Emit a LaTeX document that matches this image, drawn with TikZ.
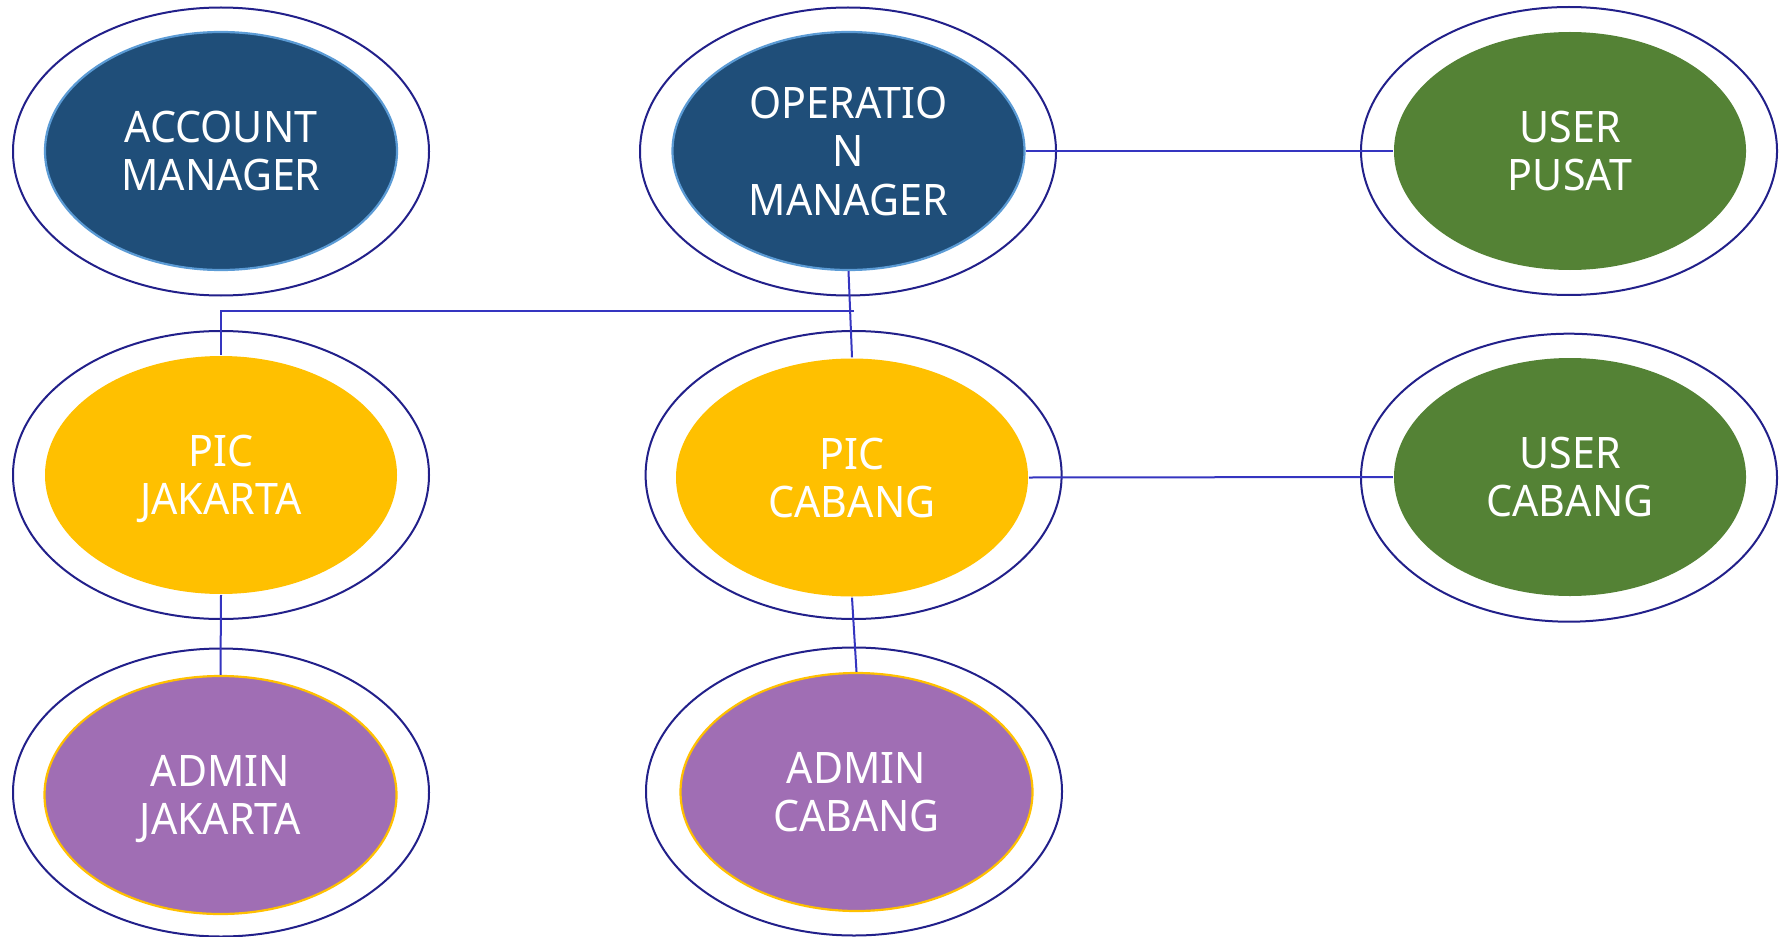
\documentclass[tikz,border=0pt]{standalone}
\usepackage{fontspec}
\setmainfont{Noto Sans}[FakeStretch=0.95]
\usetikzlibrary{shapes.geometric}
\definecolor{navyfill}{HTML}{1F4E79}
\definecolor{skyedge}{HTML}{5B9BD5}
\definecolor{gold}{HTML}{FFC000}
\definecolor{leaf}{HTML}{548235}
\definecolor{violet}{HTML}{A06EB4}
\definecolor{ringc}{HTML}{22208A}
\definecolor{linec}{HTML}{3535C0}
\begin{document}
\begin{tikzpicture}[x=0.5pt,y=-0.5pt,
  ring/.style={ellipse, draw=ringc, line width=1pt, fill=white,
    minimum width=208pt, minimum height=144pt, inner sep=0pt},
  core/.style={ellipse, minimum width=176pt, minimum height=119pt, inner sep=0pt,
    text=white, align=center, line width=1.1pt, text depth=0pt,
    font=\fontsize{21.7}{24.2}\selectfont},
  mgr/.style={core, fill=navyfill, draw=skyedge},
  pic/.style={core, fill=gold},
  usr/.style={core, fill=leaf},
  adm/.style={core, fill=violet, draw=gold},
  link/.style={draw=linec, line width=1pt}]
\useasboundingbox (0,0) rectangle (1780,936);
% outer rings
\node[ring] (amO) at (221,151.5) {};
\node[ring] (omO) at (848,151.5) {};
\node[ring] (upO) at (1569,151) {};
\node[ring] (pjO) at (221,475) {};
\node[ring] (pcO) at (853.6,475) {};
\node[ring] (ucO) at (1569,477.7) {};
\node[ring] (ajO) at (221,792.5) {};
\node[ring] (acO) at (854,791.5) {};
% inner nodes
\node[mgr] (am) at (221,151) {ACCOUNT\\MANAGER};
\node[mgr] (om) at (848.5,151) {OPERATIO\\N\\MANAGER};
\node[usr] (up) at (1570,151) {USER\\PUSAT};
\node[pic] (pj) at (221,475) {PIC\\JAKARTA};
\node[pic] (pc) at (852,477.5) {PIC\\CABANG};
\node[usr] (uc) at (1570,477) {USER\\CABANG};
\node[adm] (aj) at (220.5,795) {ADMIN\\JAKARTA};
\node[adm] (ac) at (856.5,792) {ADMIN\\CABANG};
% connectors
\coordinate (jn) at (854,311);
\draw[link] (om.east) -- (up.west);
\draw[link] (om.south) -- (pc.north);
\draw[link] (jn) -- (pj.north |- jn) -- (pj.north);
\draw[link] (pj.south) -- (aj.north);
\draw[link] (pc.south) -- (ac.north);
\draw[link] (pc.east) -- (uc.west);
\end{tikzpicture}
\end{document}
